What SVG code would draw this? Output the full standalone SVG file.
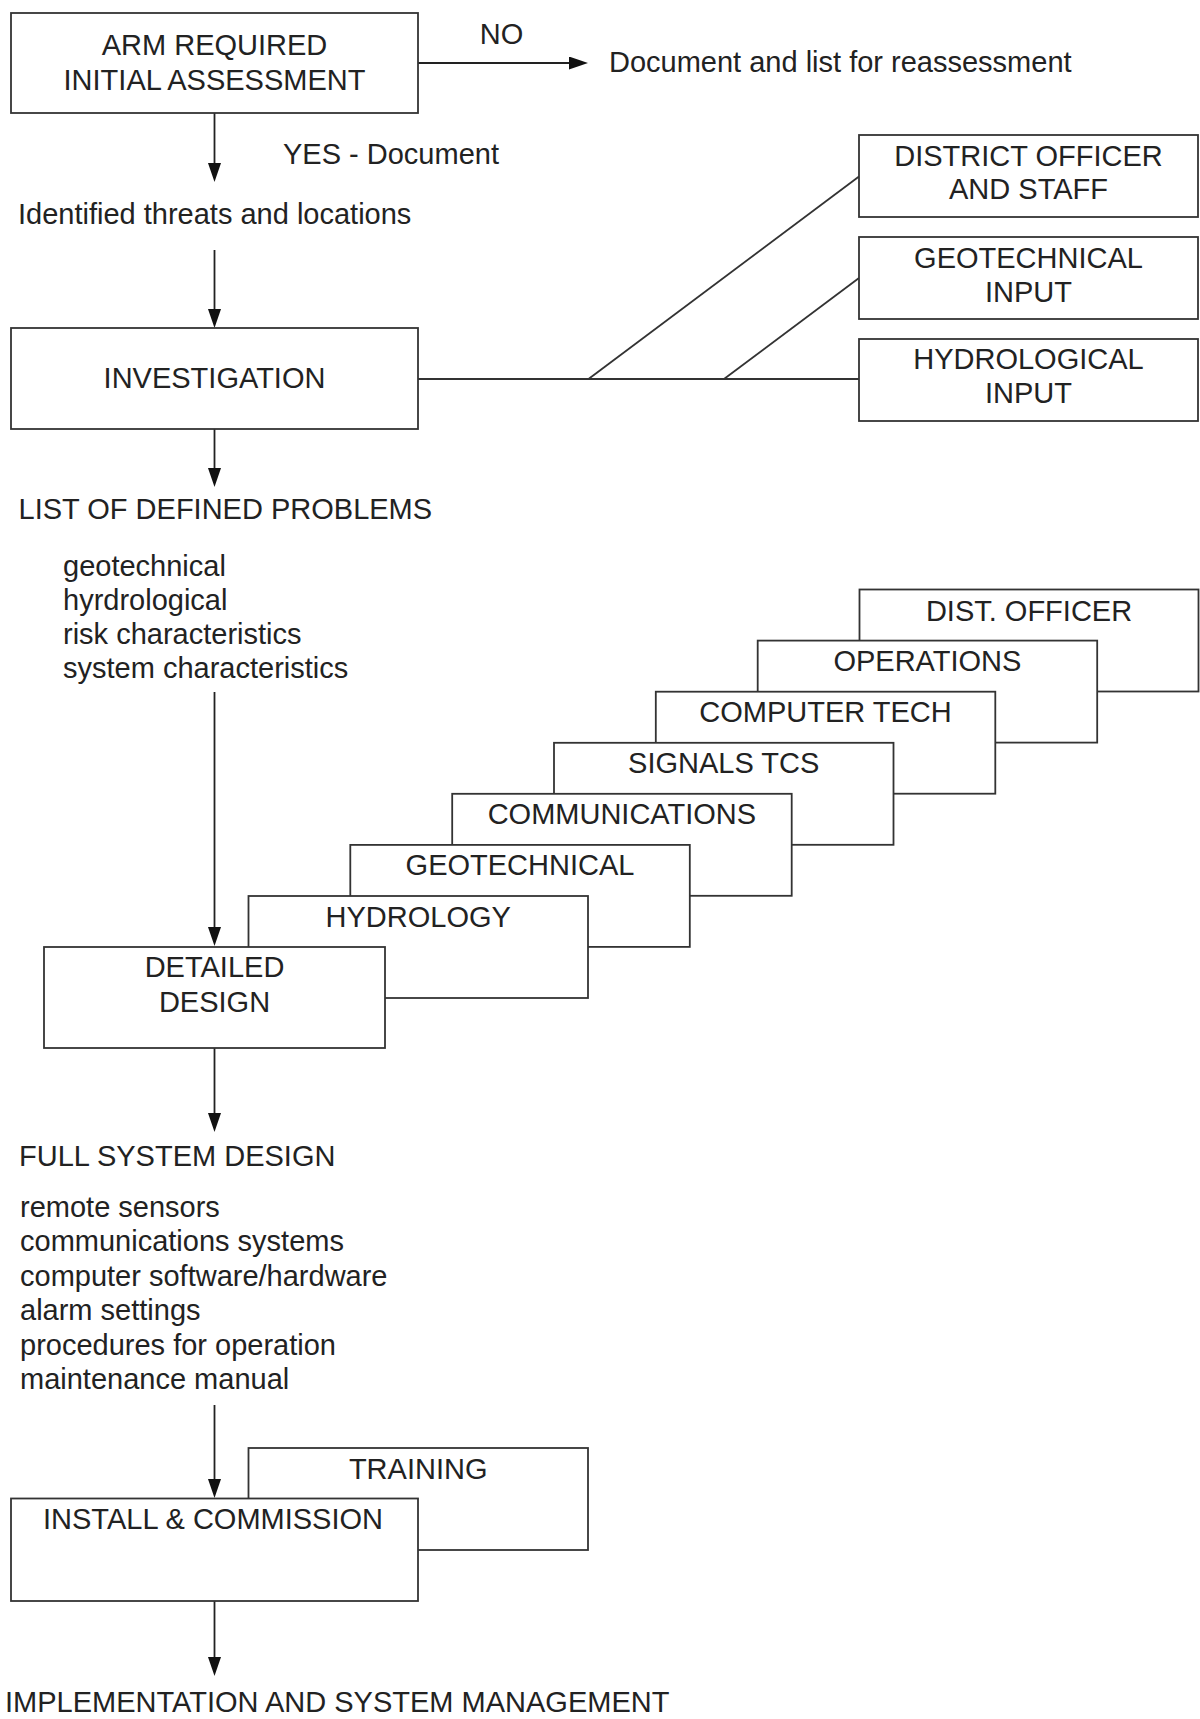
<svg xmlns="http://www.w3.org/2000/svg" width="1200" height="1719" viewBox="0 0 1200 1719">
<defs>
<style>
.box{fill:#fff;stroke:#333;stroke-width:1.8}
.ln{fill:none;stroke:#333;stroke-width:1.8}
.arr{fill:none;stroke:#222;stroke-width:1.8;marker-end:url(#ah)}
text{font-family:"Liberation Sans",Arial,sans-serif;font-size:29px;fill:#222}
.c{text-anchor:middle}
</style>
<marker id="ah" markerWidth="22" markerHeight="14" refX="11" refY="6.5" orient="auto" markerUnits="userSpaceOnUse">
<path d="M0,0 L19,6.5 L0,13 z" fill="#111"/>
</marker>
</defs>
<rect width="1200" height="1719" fill="#fff"/>

<g id="connectors">
<line class="arr" x1="418" y1="63" x2="580" y2="63"/>
<line class="arr" x1="214.5" y1="113" x2="214.5" y2="174"/>
<line class="arr" x1="214.5" y1="250" x2="214.5" y2="320"/>
<line class="ln" x1="418" y1="379" x2="859" y2="379"/>
<line class="ln" x1="588.5" y1="379" x2="859" y2="176.5"/>
<line class="ln" x1="724" y1="379" x2="859" y2="278"/>
<line class="arr" x1="214.5" y1="429" x2="214.5" y2="479"/>
<line class="arr" x1="214.5" y1="692" x2="214.5" y2="938"/>
<line class="arr" x1="214.5" y1="1048" x2="214.5" y2="1124"/>
<line class="arr" x1="214.5" y1="1405" x2="214.5" y2="1490"/>
<line class="arr" x1="214.5" y1="1601" x2="214.5" y2="1668"/>
</g>

<g id="arm-required">
<rect class="box" x="11" y="13" width="407" height="100"/>
<text class="c" x="214.5" y="54.5">ARM REQUIRED</text>
<text class="c" x="214.5" y="89.5">INITIAL ASSESSMENT</text>
</g>
<g id="label-no"><text class="c" x="501.5" y="43.5">NO</text></g>
<g id="reassessment"><text x="609" y="71.5">Document and list for reassessment</text></g>
<g id="label-yes"><text x="283" y="164">YES - Document</text></g>
<g id="threats"><text x="18" y="224.3">Identified threats and locations</text></g>

<g id="investigation">
<rect class="box" x="11" y="328" width="407" height="101"/>
<text class="c" x="214.5" y="387.5">INVESTIGATION</text>
</g>

<g id="district-officer-staff">
<rect class="box" x="859" y="135" width="339" height="82"/>
<text class="c" x="1028.5" y="165.5">DISTRICT OFFICER</text>
<text class="c" x="1028.5" y="199">AND STAFF</text>
</g>
<g id="geotechnical-input">
<rect class="box" x="859" y="237" width="339" height="82"/>
<text class="c" x="1028.5" y="267.5">GEOTECHNICAL</text>
<text class="c" x="1028.5" y="301.5">INPUT</text>
</g>
<g id="hydrological-input">
<rect class="box" x="859" y="339" width="339" height="82"/>
<text class="c" x="1028.5" y="369">HYDROLOGICAL</text>
<text class="c" x="1028.5" y="403">INPUT</text>
</g>

<g id="defined-problems">
<text x="18.5" y="518.5">LIST OF DEFINED PROBLEMS</text>
<text x="63" y="575.5">geotechnical</text>
<text x="63" y="609.8">hyrdrological</text>
<text x="63" y="644">risk characteristics</text>
<text x="63" y="678.4">system characteristics</text>
</g>

<g id="dist-officer">
<rect class="box" x="859.5" y="589.5" width="339" height="102"/>
<text class="c" x="1029" y="620.5">DIST. OFFICER</text>
</g>
<g id="operations">
<rect class="box" x="757.7" y="640.6" width="339.5" height="102"/>
<text class="c" x="927.4" y="671.1">OPERATIONS</text>
</g>
<g id="computer-tech">
<rect class="box" x="655.8" y="691.7" width="339.5" height="102"/>
<text class="c" x="825.5" y="722.2">COMPUTER TECH</text>
</g>
<g id="signals-tcs">
<rect class="box" x="554" y="742.8" width="339.5" height="102"/>
<text class="c" x="723.7" y="773.3">SIGNALS TCS</text>
</g>
<g id="communications">
<rect class="box" x="452.2" y="793.8" width="339.5" height="102"/>
<text class="c" x="621.9" y="824.3">COMMUNICATIONS</text>
</g>
<g id="geotechnical">
<rect class="box" x="350.3" y="844.9" width="339.5" height="102"/>
<text class="c" x="520" y="875.4">GEOTECHNICAL</text>
</g>
<g id="hydrology">
<rect class="box" x="248.5" y="896" width="339.5" height="102"/>
<text class="c" x="418.2" y="926.5">HYDROLOGY</text>
</g>
<g id="detailed-design">
<rect class="box" x="44" y="947" width="341" height="101"/>
<text class="c" x="214.5" y="977">DETAILED</text>
<text class="c" x="214.5" y="1011.7">DESIGN</text>
</g>

<g id="full-system-design">
<text x="19" y="1165.5">FULL SYSTEM DESIGN</text>
<text x="20" y="1217">remote sensors</text>
<text x="20" y="1251.4">communications systems</text>
<text x="20" y="1285.8">computer software/hardware</text>
<text x="20" y="1320.2">alarm settings</text>
<text x="20" y="1354.6">procedures for operation</text>
<text x="20" y="1389">maintenance manual</text>
</g>

<g id="training">
<rect class="box" x="248.5" y="1448" width="339.5" height="102"/>
<text class="c" x="418.2" y="1478.6">TRAINING</text>
</g>
<g id="install-commission">
<rect class="box" x="11" y="1498.5" width="407" height="102.5"/>
<text class="c" x="213" y="1528.6">INSTALL &amp; COMMISSION</text>
</g>
<g id="implementation">
<text x="5" y="1712">IMPLEMENTATION AND SYSTEM MANAGEMENT</text>
</g>
</svg>
